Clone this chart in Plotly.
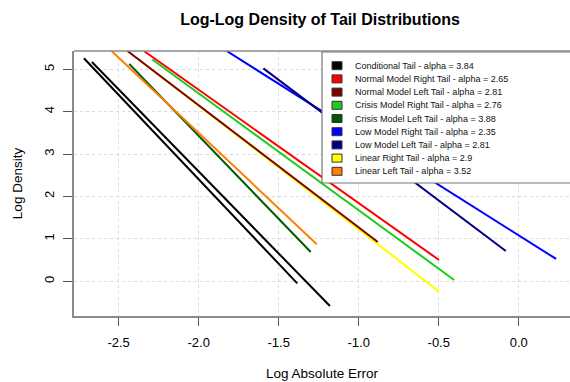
import plotly.graph_objects as go

# ---------------- data ----------------
labels = [
    "Conditional Tail - alpha = 3.84",
    "Normal Model Right Tail - alpha = 2.65",
    "Normal Model Left Tail - alpha = 2.81",
    "Crisis Model Right Tail - alpha = 2.76",
    "Crisis Model Left Tail - alpha = 3.88",
    "Low Model Right Tail - alpha = 2.35",
    "Low Model Left Tail - alpha = 2.81",
    "Linear Right Tail - alpha = 2.9",
    "Linear Left Tail - alpha = 3.52",
]
colors = ["#000000", "#FF0000", "#7F0000", "#1ECC1E", "#005A00",
          "#0000FF", "#000080", "#FFFF00", "#FF7F00"]

# segment end points (log absolute error, log density)
cond_a_x = [-2.717, -1.384]
cond_a_y = [5.26, -0.05]
cond_b_x = [-2.667, -1.180]
cond_b_y = [5.17, -0.585]
normal_right_x = [-2.342, -0.498]
normal_right_y = [5.43, 0.50]
normal_left_x = [-2.445, -0.881]
normal_left_y = [5.43, 0.927]
crisis_right_x = [-2.29, -0.404]
crisis_right_y = [5.23, 0.03]
crisis_left_x = [-2.434, -1.300]
crisis_left_y = [5.125, 0.69]
low_right_x = [-1.825, 0.233]
low_right_y = [5.43, 0.526]
low_left_x = [-1.596, -0.081]
low_left_y = [5.02, 0.714]
linear_right_x = [-2.388, -0.498]
linear_right_y = [5.27, -0.245]
linear_left_x = [-2.544, -1.262]
linear_left_y = [5.43, 0.873]

x_ticks = [-2.5, -2.0, -1.5, -1.0, -0.5, 0.0]
x_ticklabels = ["-2.5", "-2.0", "-1.5", "-1.0", "-0.5", "0.0"]
y_ticks = [0, 1, 2, 3, 4, 5]

# ---------------- figure ----------------
W, H = 570, 382
L, R, T, B = 74, 0, 51, 66
plot_w = W - L - R
plot_h = H - T - B


def px(xp):
    return (xp - L) / plot_w


def py(yp):
    return (H - B - yp) / plot_h


fig = go.Figure()

# drawing order (so overlaps look like the reference)
segments = [
    (cond_a_x, cond_a_y, 0),
    (cond_b_x, cond_b_y, 0),
    (crisis_right_x, crisis_right_y, 3),
    (normal_right_x, normal_right_y, 1),
    (linear_right_x, linear_right_y, 7),
    (normal_left_x, normal_left_y, 2),
    (crisis_left_x, crisis_left_y, 4),
    (linear_left_x, linear_left_y, 8),
    (low_right_x, low_right_y, 5),
    (low_left_x, low_left_y, 6),
]
for xs, ys, ci in segments:
    fig.add_trace(go.Scatter(x=xs, y=ys, mode="lines",
                             line=dict(color=colors[ci], width=2),
                             showlegend=False, hoverinfo="skip"))

font_family = "Liberation Sans, Arial, Helvetica, sans-serif"
axis_col = "#555555"
box_col = "#8A8A8A"

fig.update_layout(
    width=W, height=H,
    margin=dict(l=L, r=R, t=T, b=B, pad=0),
    paper_bgcolor="white", plot_bgcolor="white",
    font=dict(family=font_family, color="#000000"),
    title=dict(text="<b>Log-Log Density of Tail Distributions</b>",
               x=(320) / W, xanchor="center", y=1 - 19 / H, yanchor="middle",
               font=dict(size=16, color="#000000")),
    xaxis=dict(range=[-2.779, 0.32], tickvals=x_ticks, ticktext=x_ticklabels,
               showgrid=True, gridcolor="#DADADA", griddash="dot", gridwidth=1,
               zeroline=False, showline=True, linecolor=box_col, linewidth=1.5,
               ticks="outside", ticklen=8, tickcolor=axis_col, tickwidth=1.2,
               tickfont=dict(size=13), ticklabelstandoff=6,
               title=dict(text="Log Absolute Error", font=dict(size=13.5), standoff=19)),
    yaxis=dict(range=[-0.82, 5.43], tickvals=y_ticks,
               showgrid=True, gridcolor="#DADADA", griddash="dot", gridwidth=1,
               zeroline=False, showline=True, linecolor=box_col, linewidth=1.5,
               ticks="outside", ticklen=9, tickcolor=axis_col, tickwidth=1.2,
               tickangle=-90, tickfont=dict(size=13), ticklabelstandoff=4,
               title=dict(text="Log Density", font=dict(size=13.5), standoff=16)),
)

shapes = []
# top border of plot box
shapes.append(dict(type="line", xref="paper", yref="paper", x0=0, x1=1.02, y0=1, y1=1,
                   line=dict(color=box_col, width=1.5), layer="above"))
# legend box
leg_left, leg_top, leg_bottom = 322, 52, 183
shapes.append(dict(type="rect", xref="paper", yref="paper",
                   x0=px(leg_left), x1=px(W + 6), y0=py(leg_bottom), y1=py(leg_top),
                   fillcolor="white", line=dict(color="#777777", width=1.2), layer="above"))
annotations = []
for i, (lab, col) in enumerate(zip(labels, colors)):
    yc = 65.7 + i * 13.2
    shapes.append(dict(type="rect", xref="paper", yref="paper",
                       x0=px(332), x1=px(342), y0=py(yc + 4), y1=py(yc - 4),
                       fillcolor=col, line=dict(color="#333333", width=1), layer="above"))
    annotations.append(dict(text=lab, xref="paper", yref="paper",
                            x=px(352.5), y=py(yc), xanchor="left", yanchor="middle",
                            showarrow=False, font=dict(size=9, color="#111111")))

fig.update_layout(shapes=shapes, annotations=annotations)
fig.write_html("out.html")
